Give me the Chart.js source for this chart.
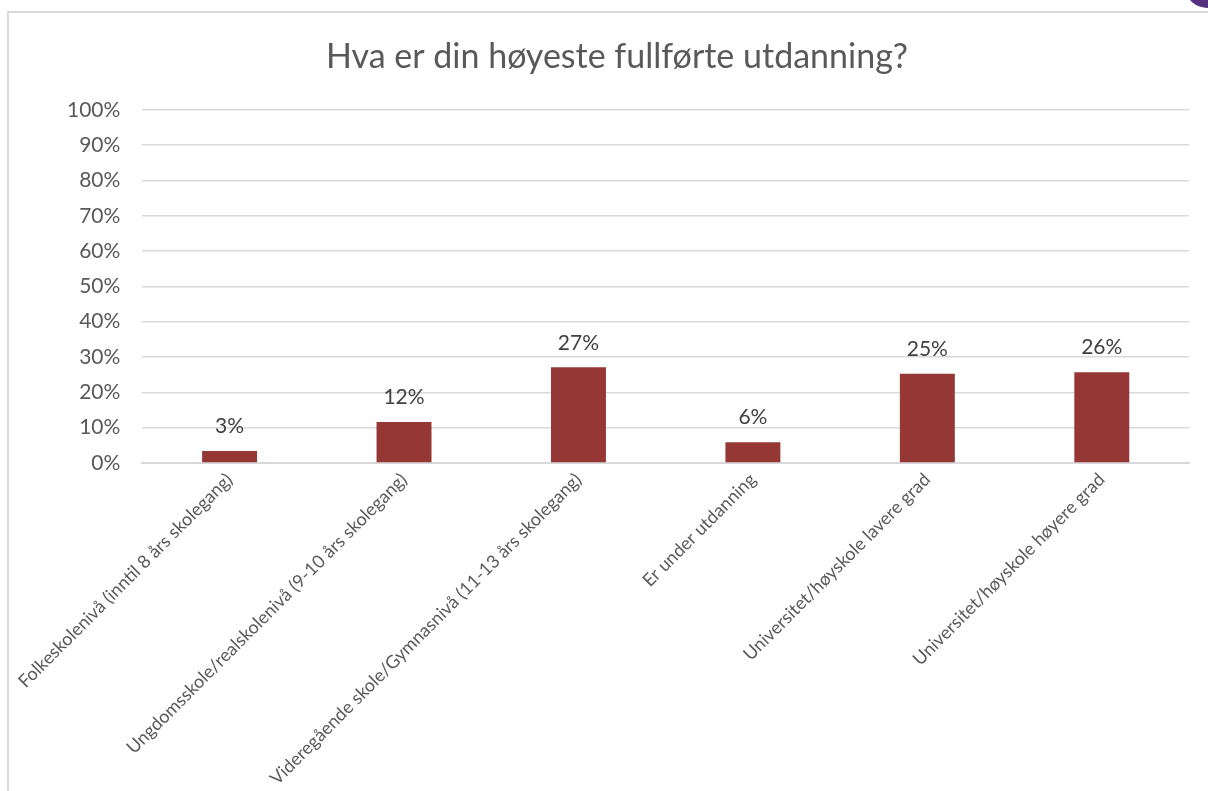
<!DOCTYPE html>
<html>
<head>
<meta charset="utf-8">
<script src="https://cdn.jsdelivr.net/npm/chart.js@4.4.0/dist/chart.umd.min.js"></script>
<style>
  html, body { margin: 0; padding: 0; background: #ffffff; }
  body { width: 1208px; height: 791px; position: relative; overflow: hidden; }
  #frame { position: absolute; left: 7px; top: 11px; width: 1220px; height: 800px;
           border-left: 2px solid #d9d9d9; border-top: 2px solid #d9d9d9; box-sizing: border-box; }
  #dot { position: absolute; left: 1186px; top: -30px; width: 44px; height: 38px; border-radius: 50%; background: #54307f; }
  #wrap { position: absolute; left: 0; top: 0; width: 1208px; height: 791px; }
</style>
</head>
<body>
<div id="frame"></div>
<div id="dot"></div>
<div id="wrap"><canvas id="c" width="1208" height="791"></canvas></div>
<script>
const titleText = 'Hva er din høyeste fullførte utdanning?';
const categories = [
  'Folkeskolenivå (inntil 8 års skolegang)',
  'Ungdomsskole/realskolenivå (9-10 års skolegang)',
  'Videregående skole/Gymnasnivå (11-13 års skolegang)',
  'Er under utdanning',
  'Universitet/høyskole lavere grad',
  'Universitet/høyskole høyere grad'
];
const values = [3.4, 11.6, 27.1, 5.9, 25.3, 25.7];
const valueLabels = ['3%', '12%', '27%', '6%', '25%', '26%'];
const yTicks = [0, 10, 20, 30, 40, 50, 60, 70, 80, 90, 100];

const FONT = 'Lato, "Open Sans", sans-serif';

const dataLabelPlugin = {
  id: 'dataLabels',
  afterDatasetsDraw(chart) {
    const ctx = chart.ctx;
    const meta = chart.getDatasetMeta(0);
    ctx.save();
    ctx.font = '21px ' + FONT;
    ctx.fillStyle = '#404040';
    ctx.textAlign = 'center';
    ctx.textBaseline = 'bottom';
    meta.data.forEach((bar, i) => {
      ctx.fillText(valueLabels[i], bar.x, bar.y - 14);
    });
    ctx.restore();
  }
};

new Chart(document.getElementById('c'), {
  type: 'bar',
  data: {
    labels: categories,
    datasets: [{
      data: values,
      backgroundColor: '#953735',
      borderWidth: 0,
      barPercentage: 0.63,
      categoryPercentage: 0.5
    }]
  },
  options: {
    responsive: false,
    animation: false,
    layout: { padding: { left: 45, right: 19, top: 0, bottom: 0 } },
    plugins: {
      legend: { display: false },
      tooltip: { enabled: false },
      title: {
        display: true,
        text: titleText,
        color: '#595959',
        font: { family: FONT, size: 34, weight: 'normal' },
        padding: { top: 37, bottom: 32 }
      }
    },
    scales: {
      y: {
        min: 0, max: 100,
        afterBuildTicks(scale) { scale.ticks = yTicks.map(v => ({ value: v })); },
        ticks: {
          color: '#595959',
          font: { family: FONT, size: 21 },
          padding: 22,
          callback: v => v + '%'
        },
        grid: { color: '#d9d9d9', lineWidth: 1.5, drawTicks: false },
        border: { display: false }
      },
      x: {
        afterFit(scale) { scale.height = 328; },
        ticks: {
          color: '#595959',
          font: { family: FONT, size: 18 },
          maxRotation: 45, minRotation: 45,
          autoSkip: false,
          padding: 6
        },
        grid: { display: false, drawTicks: false },
        border: { display: true, color: '#d9d9d9', width: 2 }
      }
    }
  },
  plugins: [dataLabelPlugin]
});
</script>
</body>
</html>
